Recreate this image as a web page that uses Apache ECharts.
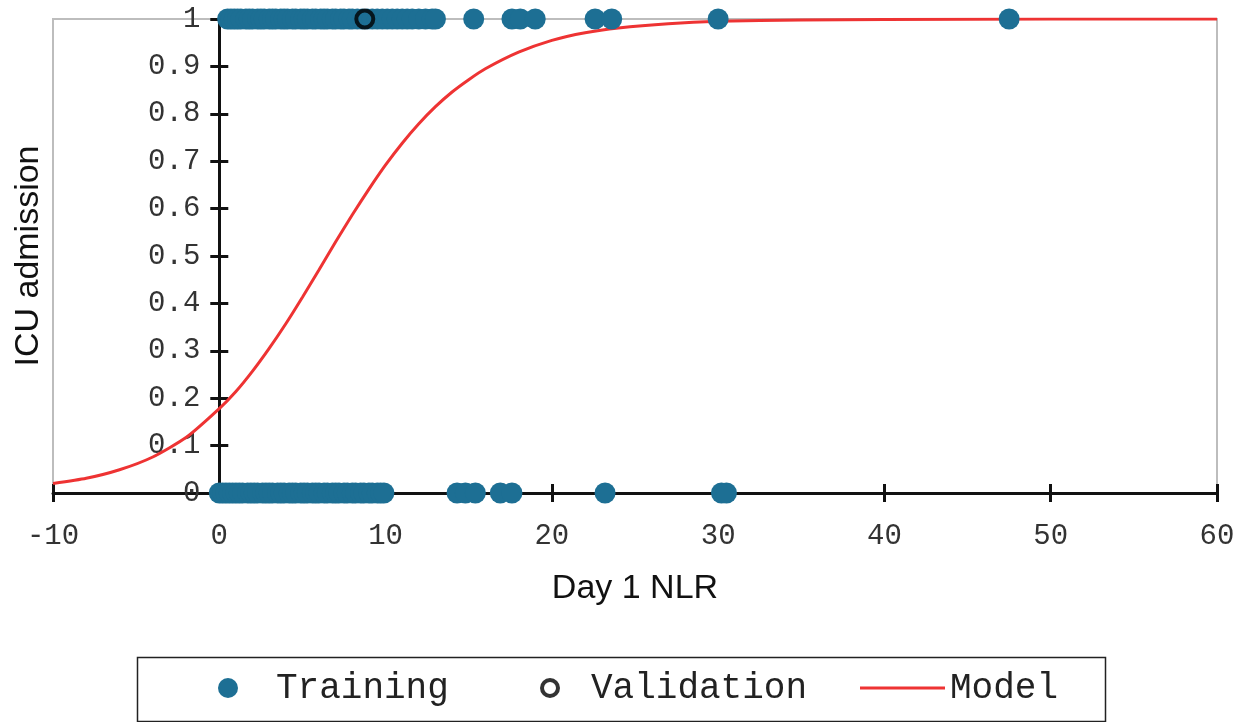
<!DOCTYPE html>
<html>
<head>
<meta charset="utf-8">
<style>
  html, body { margin: 0; padding: 0; background: #fff; }
  #chart { width: 1245px; height: 722px; }
</style>
<script src="https://cdn.jsdelivr.net/npm/echarts@6/dist/echarts.min.js"></script>
</head>
<body>
<div id="chart"></div>
<script>
// Training cohort: Day 1 NLR of patients admitted to ICU (outcome 1)
var trainingAdmittedNLR = [
  0.5, 0.7, 0.9, 1.1, 1.3, 1.6, 1.8, 2.0, 2.3, 2.5, 2.7, 3.0, 3.2, 3.4, 3.7,
  3.9, 4.1, 4.4, 4.6, 4.9, 5.1, 5.3, 5.6, 5.8, 6.1, 6.3, 6.5, 6.8, 7.0, 7.3,
  7.5, 7.8, 8.0, 8.3, 8.6, 8.9, 9.2, 9.5, 9.8, 10.1, 10.4, 10.7, 11.0, 11.3,
  11.6, 12.0, 12.4, 12.8, 13.0, 15.3, 17.6, 18.1, 19.0, 22.6, 23.6, 30.0, 47.5
];
// Training cohort: Day 1 NLR of patients not admitted to ICU (outcome 0)
var trainingNotAdmittedNLR = [
  0.0, 0.2, 0.4, 0.6, 0.8, 1.0, 1.2, 1.4, 1.7, 1.9, 2.1, 2.3, 2.6, 2.8, 3.0,
  3.2, 3.5, 3.7, 3.9, 4.2, 4.4, 4.6, 4.9, 5.1, 5.3, 5.6, 5.8, 6.0, 6.3, 6.5,
  6.8, 7.0, 7.2, 7.5, 7.7, 8.0, 8.2, 8.5, 8.7, 9.0, 9.2, 9.5, 9.7, 9.9,
  14.3, 14.8, 15.4, 16.9, 17.6, 23.2, 30.2, 30.5
];
// Validation cohort points [NLR, outcome]
var validationPoints = [[8.75, 1]];
// Fitted logistic model: predicted probability of ICU admission
var modelNLR  = [-10, -8, -6, -4, -2, 0, 1, 2, 3, 4, 5, 6, 7, 8, 9, 10, 11, 12, 13, 14, 15, 16, 18, 20, 22, 24, 27, 30, 35, 40, 50, 60];
var modelProb = [0.020, 0.031, 0.049, 0.076, 0.117, 0.178, 0.214, 0.257, 0.305, 0.357, 0.413, 0.471, 0.530, 0.587, 0.641, 0.692, 0.738, 0.779, 0.815, 0.846, 0.872, 0.895, 0.930, 0.955, 0.971, 0.981, 0.990, 0.995, 0.998, 0.999, 1, 1];

var xTicks = { min: -10, max: 60, interval: 10 };
var yTicks = { min: 0, max: 1, interval: 0.1 };

var trainingColor = '#1d6f94';
var tickFont = { fontFamily: '"Liberation Mono", "Courier New", monospace', fontSize: 29, color: '#333' };
var titleFont = { fontFamily: '"Liberation Sans", Arial, sans-serif', fontSize: 34, color: '#111' };
var legendFont = { fontFamily: '"Liberation Mono", "Courier New", monospace', fontSize: 36, color: '#222' };

var trainingData = trainingAdmittedNLR.map(function (v) { return [v, 1]; })
  .concat(trainingNotAdmittedNLR.map(function (v) { return [v, 0]; }));
var modelData = modelNLR.map(function (v, i) { return [v, modelProb[i]]; });

// Plot box geometry; the vertical axis sits at NLR = 0
var plotLeft = 53, plotRight = 28, plotWidth = 1245 - plotLeft - plotRight;
var yAxisShift = -plotWidth * (0 - xTicks.min) / (xTicks.max - xTicks.min);

var chart = echarts.init(document.getElementById('chart'));

var axisLineStyle = { color: '#111', width: 3 };
var tickStyle = { color: '#111', width: 3 };

chart.setOption({
  animation: false,
  backgroundColor: '#fff',
  grid: {
    left: plotLeft, right: plotRight, top: 19, bottom: 229,
    containLabel: false, outerBoundsMode: 'none',
    show: true, borderColor: '#bdbdbd', borderWidth: 2, backgroundColor: 'transparent'
  },
  xAxis: [{
    type: 'value', min: xTicks.min, max: xTicks.max, interval: xTicks.interval,
    position: 'bottom',
    name: 'Day 1 NLR', nameLocation: 'middle', nameGap: 79, nameTextStyle: titleFont,
    axisLine: { show: true, onZero: false, lineStyle: axisLineStyle },
    axisTick: { show: true, length: 9, lineStyle: tickStyle },
    axisLabel: Object.assign({ margin: 29 }, tickFont),
    splitLine: { show: false }
  }, {
    type: 'value', min: xTicks.min, max: xTicks.max, interval: xTicks.interval,
    position: 'bottom',
    axisLine: { show: false, onZero: false },
    axisTick: { show: true, inside: true, length: 9, lineStyle: tickStyle },
    axisLabel: { show: false },
    splitLine: { show: false }
  }],
  yAxis: [{
    type: 'value', min: yTicks.min, max: yTicks.max, interval: yTicks.interval,
    position: 'left', offset: yAxisShift,
    name: 'ICU admission', nameLocation: 'middle', nameGap: 174, nameTextStyle: titleFont,
    axisLine: { show: true, onZero: false, lineStyle: axisLineStyle },
    axisTick: { show: true, length: 9, lineStyle: tickStyle },
    axisLabel: Object.assign({ margin: 19 }, tickFont),
    splitLine: { show: false }
  }, {
    type: 'value', min: yTicks.min, max: yTicks.max, interval: yTicks.interval,
    position: 'left', offset: yAxisShift,
    axisLine: { show: false, onZero: false },
    axisTick: { show: true, inside: true, length: 9, lineStyle: tickStyle },
    axisLabel: { show: false },
    splitLine: { show: false }
  }],
  legend: [{
    data: ['Training'], left: 218, top: 670, padding: 0,
    icon: 'circle', itemWidth: 20, itemHeight: 20,
    textStyle: Object.assign({ padding: [0, 0, 0, 33] }, legendFont)
  }, {
    data: ['Validation'], left: 540, top: 670, padding: 0,
    icon: 'circle', itemWidth: 16, itemHeight: 16,
    itemStyle: { color: '#fff', borderColor: '#000', borderWidth: 4 },
    textStyle: Object.assign({ padding: [0, 0, 0, 28] }, legendFont)
  }, {
    data: ['Model'], left: 860, top: 670, padding: 0,
    icon: 'rect', itemWidth: 85, itemHeight: 3,
    textStyle: legendFont
  }],
  graphic: [{
    type: 'rect', left: 135, top: 655, z: 0,
    shape: { width: 968, height: 64 },
    style: { fill: 'none', stroke: '#222', lineWidth: 1.5 }
  }],
  series: [{
    name: 'Model', type: 'line', data: modelData,
    showSymbol: false, symbol: 'none',
    smooth: 0.2,
    lineStyle: { color: '#ee3333', width: 3 },
    itemStyle: { color: '#ee3333' },
    z: 3
  }, {
    name: 'Training', type: 'scatter', data: trainingData,
    symbol: 'circle', symbolSize: 21,
    itemStyle: { color: trainingColor, opacity: 1 },
    z: 4
  }, {
    name: 'Validation', type: 'scatter', data: validationPoints,
    symbol: 'circle', symbolSize: 17,
    itemStyle: { color: 'rgba(0,0,0,0)', borderColor: '#000', borderWidth: 4 },
    z: 5
  }]
});
</script>
</body>
</html>
